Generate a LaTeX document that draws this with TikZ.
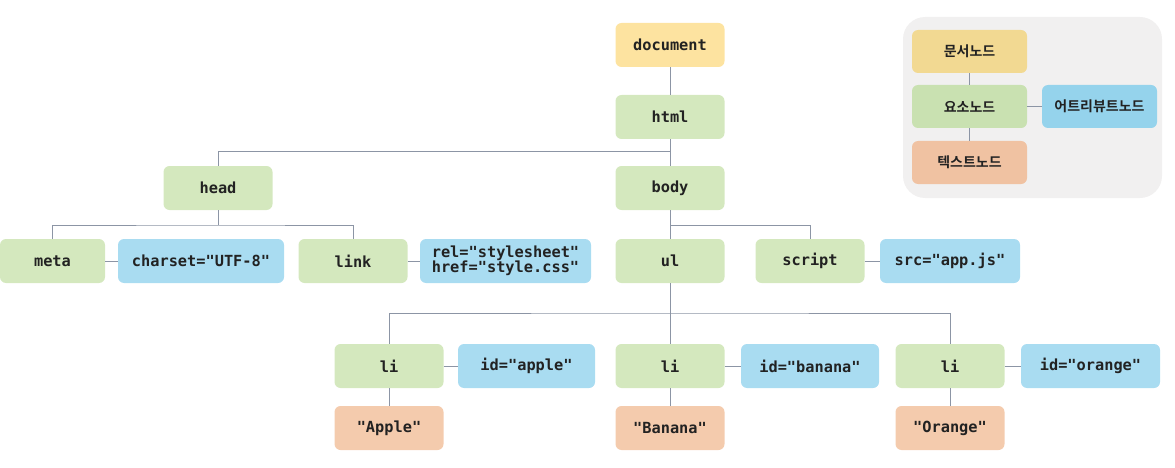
\documentclass[tikz,border=0pt]{standalone}
\usepackage{fontspec}
\usepackage{xcolor}
\newfontfamily\codefont{DejaVu Sans Mono}
\newfontfamily\krfont{Noto Sans CJK KR}[BoldFont={Noto Sans CJK KR Bold}]
\definecolor{docfill}{HTML}{FDE3A0}
\definecolor{elemfill}{HTML}{D4E8BE}
\definecolor{attrfill}{HTML}{A9DCF1}
\definecolor{textfill}{HTML}{F4CBAD}
\definecolor{legdocfill}{HTML}{F2D992}
\definecolor{legelemfill}{HTML}{C9E1B1}
\definecolor{legattrfill}{HTML}{95D3EC}
\definecolor{legtextfill}{HTML}{F0C2A2}
\definecolor{legback}{HTML}{F1F0F0}
\definecolor{wire}{HTML}{8C95A5}
\definecolor{ink}{HTML}{222222}

\begin{document}
\begin{tikzpicture}[x=1pt, y=-1pt,
    box/.style={rounded corners=6pt, minimum height=44pt, inner sep=0pt,
      text=ink, align=center, font=\codefont\bfseries\fontsize{15.3}{17.5}\selectfont},
    elem/.style={box, fill=elemfill, minimum width=109pt},
    docnode/.style={box, fill=docfill, minimum width=109pt},
    attr/.style={box, fill=attrfill},
    textnode/.style={box, fill=textfill, minimum width=109pt},
    legbox/.style={rounded corners=6pt, minimum width=115pt, minimum height=43pt,
      inner sep=0pt, text=ink, font=\krfont\bfseries\fontsize{14}{16}\selectfont},
    wire/.style={draw=wire, line width=1pt}]
  \useasboundingbox (0,0) rectangle (1175,468);

  \node [docnode] (document) at (670,45) {document};
  \node [elem] (html) at (670,117) {html};
  \node [elem] (head) at (218,188) {head};
  \node [elem] (body) at (670,188) {body};

  \node [elem, minimum width=105pt] (meta) at (52.5,261) {meta};
  \node [attr, minimum width=166pt] (charset) at (201,261) {charset="UTF-8"};
  \node [elem] (link) at (353,261) {link};
  \node [attr, minimum width=171pt] (rel) at (505.5,261)
    {rel="stylesheet"\\[-2pt]href="style.css"};
  \node [elem] (ul) at (670,261) {ul};
  \node [elem] (script) at (810,261) {script};
  \node [attr, minimum width=140pt] (src) at (950,261) {src="app.js"};

  \foreach \x/\ax/\aw/\a/\t [count=\i] in
    {389/526.5/137/apple/Apple, 670/810/138/banana/Banana, 950/1090.5/139/orange/Orange}
  {
    \node [elem] (li\i) at (\x,366) {li};
    \node [attr, minimum width=\aw pt] (id\i) at (\ax,366) {id="\a"};
    \node [textnode] (txt\i) at (\x,428) {"\t"};
    \draw [wire] (li\i) -- (id\i);
    \draw [wire] (li\i) -- (txt\i);
  }

  \coordinate (htmlbar) at (670,152);
  \coordinate (headbar) at (218,225);
  \coordinate (bodybar) at (670,225);
  \coordinate (ulbar) at (670,313);

  \draw [wire] (document) -- (html);
  \draw [wire] (html) -- (htmlbar) -| (head);
  \draw [wire] (htmlbar) -- (body);
  \draw [wire] (head) -- (headbar);
  \draw [wire] (meta.north) |- (headbar) -| (link.north);
  \draw [wire] (meta) -- (charset);
  \draw [wire] (link) -- (rel);
  \draw [wire] (body) -- (ul);
  \draw [wire] (bodybar) -| (script);
  \draw [wire] (script) -- (src);
  \draw [wire] (ul) -- (li2);
  \draw [wire] (li1.north) |- (ulbar) -| (li3.north);

  \fill [legback, rounded corners=22pt] (903,17) rectangle (1162,198);
  \node [legbox, fill=legdocfill] (legdoc) at (969.5,51.5) {문서노드};
  \node [legbox, fill=legelemfill] (legelem) at (969.5,106.5) {요소노드};
  \node [legbox, fill=legattrfill] (legattr) at (1099.5,106.5) {어트리뷰트노드};
  \node [legbox, fill=legtextfill] (legtext) at (969.5,162.5) {텍스트노드};
  \draw [wire] (legdoc) -- (legelem);
  \draw [wire] (legelem) -- (legtext);
  \draw [wire] (legelem) -- (legattr);
\end{tikzpicture}
\end{document}
